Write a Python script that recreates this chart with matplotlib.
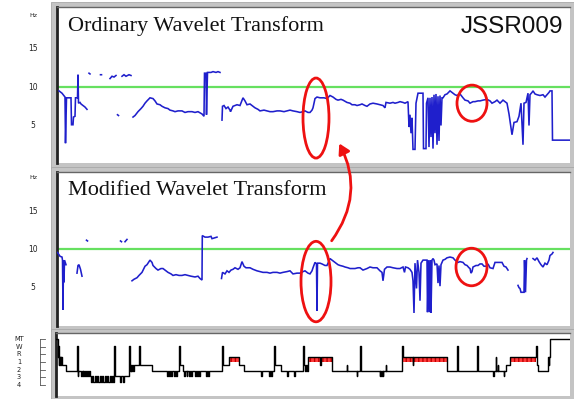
import numpy as np
import matplotlib
matplotlib.use("Agg")
import matplotlib.pyplot as plt
from matplotlib.patches import Rectangle, Ellipse, FancyArrowPatch
from matplotlib.transforms import blended_transform_factory

nan = np.nan

# ---------------- data (time in epochs, frequency in Hz) ----------------
owt_t = [59, 62, 65, 65.5, 66.5, 69, 71, 71.5, 73, 73.5, 75, 75.5, 77.5, 78, 78.5, 80, 81, 83, 85, 87, nan,
         89, 90, nan, 100.5, 101.5, nan, 110, 112, 114, 116, nan, 122, 124, 126, 129, 131, nan,
         117.5, 118.5, nan,
         133, 135, 138, 141, 143, 145, 147, 150, 153, 155, 157, 160, 162, 165, 168, 170, 173, 175, 178,
         182, 185, 188, 192, 195, 198, 202, 204, 204.5, 206, 206.5, 207.5, 211, 213, 216, 218, 220, nan,
         222, 222.5, 224, 226, 228, 230, 230.5, 233, 237, 240, 243, 245, 247, 250, 253, 255, 258, 260,
         264, 267, 270, 273, 277, 280, 284, 287, 290, 293, 297, 300, 303, 305, 308, 310, 312, 313, 315,
         317, 320, 324, 327, 330, 333, 336, 338, 341, 343, 347, 350, 352, 355, 357, 360, 362, 365, 367,
         370, 373, 377, 380, 383, 385, 386, 390, 393, 395, 398, 400, 403, 405, 408, 409, 410, 411, 412,
         413, 415, 416, 418, 421, 423, 423.5, 426, 426.5, 428, 429, 430, 431, 432, 433, 434, 435, 436,
         437, 438, 439, 440, 441, 442, 443, 445, 447, 450, 453, 455, 457, 460, 463, 465, 468, 470, 473,
         475, 478, 480, 483, 487, 490, 492, 495, 497, 500, 503, 505, 507, 509, 512, 514, 517, 519, 521,
         523, 524, 526, 528, 529, 530, 532, 533, 535, 537, 540, 543, 545, 547, 549, 550, 552, 552.5, 572]
owt_hz = [9.5, 9.2, 8.7, 2.7, 8.6, 8.6, 8.6, 5.1, 5.1, 6.1, 6.2, 8.6, 8.6, 11.6, 7.9, 8.0, 7.8, 7.6, 7.4, 7.1, nan,
          11.8, 11.7, nan, 11.6, 11.6, nan, 11.1, 11.4, 11.3, 11.5, nan, 11.4, 11.6, 11.4, 11.6, 11.5, nan,
          6.4, 6.3, nan,
          6.1, 6.3, 6.8, 7.2, 7.5, 7.9, 8.2, 8.6, 8.5, 8.2, 7.8, 7.7, 7.5, 7.3, 7.2, 7.0, 6.9, 6.8, 6.9,
          6.9, 6.7, 6.8, 6.8, 6.7, 6.8, 6.5, 6.2, 11.8, 11.8, 6.4, 11.9, 11.9, 12.0, 11.9, 12.0, 11.9, nan,
          5.7, 7.5, 7.6, 7.2, 7.4, 7.0, 6.8, 7.5, 7.7, 7.6, 8.6, 8.2, 7.7, 7.8, 7.5, 7.3, 7.1, 6.9,
          7.0, 6.9, 6.8, 6.8, 6.9, 6.9, 6.8, 6.9, 7.0, 6.9, 6.8, 6.7, 6.8, 6.9, 6.7, 6.7, 7.0, 7.3, 8.5,
          8.7, 8.6, 8.6, 8.5, 8.9, 8.7, 8.4, 8.3, 8.4, 8.3, 8.0, 7.9, 7.7, 7.7, 7.6, 7.7, 7.8, 7.6, 7.5,
          7.8, 7.9, 7.8, 7.7, 7.6, 7.3, 8.0, 7.9, 8.0, 7.9, 8.0, 8.1, 8.0, 7.9, 8.1, 4.8, 6.4, 4.0, 6.0,
          1.9, 1.9, 7.9, 9.2, 9.2, 9.2, 2.0, 2.0, 7.9, 8.6, 2.2, 8.6, 3.5, 8.7, 2.0, 9.0, 4.0, 9.1,
          2.5, 8.8, 3.0, 8.9, 5.0, 8.6, 8.6, 9.0, 9.1, 9.5, 9.2, 9.0, 8.9, 9.1, 8.6, 8.3, 8.2, 7.9, 8.1,
          8.1, 8.2, 8.2, 8.3, 8.4, 8.2, 7.9, 8.1, 8.3, 7.9, 8.3, 8.1, 7.9, 6.5, 3.8, 5.4, 5.5, 6.2, 7.9,
          2.5, 7.9, 8.0, 9.2, 5.0, 9.0, 9.3, 9.5, 9.1, 9.0, 8.9, 9.0, 8.7, 9.0, 9.3, 9.5, 9.5, 3.1, 3.1]

mwt_t = [57.5, 59, 60, 62, 62.5, 63, 63.5, 64, 64.5, 66, nan,
         77, 78, 79, 80.5, 82, nan,
         86.5, 87.5, nan, 120.5, 121.5, nan, 125, 127, nan,
         132, 134, 137, 139, 142, 145, 147, 150, 152, 153, 156, 158, 161, 163, 166, 168, 171, 173, 176,
         179, 182, 185, 188, 191, 195, 198, 200, 202, 202.3, 205, 208, 211, 212, 217, nan,
         221.5, 222.5, 225, 227, 229, 231, 233, 235, 238, 240, 242, 244, 246, 250, 253, 257, 260, 263,
         267, 270, 273, 277, 280, 283, 287, 290, 293, 297, 300, 303, 305, 308, 310, 312, 313, 315,
         316.5, 317, 317.5, 320, 322, 325, 327, 330, 333, 335, 338, 340, 343, 345, 348, 350, 353, 355,
         358, 360, 363, 367, 370, 373, 377, 380, 382, 383, 384.5, 387, 390, 393, 397, 400, 403, 404.5,
         405.5, 408, 410, 412, 413, 414, 415, 416.5, 417.5, 419, 420, 421, 423, 425, 427, 427.5, 428.5,
         429.5, 430.5, 431, 432, 433, 434, 435, 437, 438, 439, 440, 441, 443, 445, 447, 450, 453, 455,
         458, 460, 463, 465, 467, 469, 470, 471, 472, 473, 476, 478, 480, 482, 484, 486, 488, 490, 493,
         495, 497, 500, 502, 504, 506, 508, nan,
         518, 519, 520, 521, 523, 524, 524.5, 525.5, 526.5, 527, nan,
         533, 535, 537, 539, 541, 543, 545, 547, 549, 550, 552, 553]
mwt_hz = [9.6, 9.3, 9.1, 9.0, 8.6, 2.1, 8.6, 5.7, 8.6, 8.0, nan,
          6.9, 7.9, 8.0, 7.4, 6.5, nan,
          11.2, 11.1, nan, 11.1, 11.0, nan, 11.0, 11.3, nan,
          5.9, 6.1, 6.3, 6.6, 7.0, 7.8, 8.0, 8.6, 8.3, 7.9, 7.5, 7.3, 7.5, 7.5, 7.2, 7.0, 6.8, 6.6, 6.7,
          6.6, 6.6, 6.7, 6.6, 6.5, 6.4, 6.5, 6.2, 6.0, 11.8, 11.6, 11.6, 11.7, 11.4, 11.6, nan,
          6.2, 7.0, 6.8, 7.2, 7.0, 7.3, 7.4, 7.6, 7.4, 7.6, 8.4, 7.8, 7.6, 7.6, 7.4, 7.2, 7.1, 7.0,
          7.0, 6.9, 7.0, 7.0, 6.9, 7.0, 7.1, 7.2, 6.8, 6.9, 6.9, 7.1, 7.2, 6.9, 6.8, 7.2, 7.6, 8.3,
          8.1, 2.0, 8.2, 8.2, 8.1, 7.9, 7.9, 8.8, 8.5, 8.3, 8.0, 7.9, 7.8, 7.7, 7.6, 7.5, 7.5, 7.5,
          7.6, 7.6, 7.3, 7.5, 7.7, 7.6, 7.6, 7.2, 7.0, 5.9, 7.4, 7.7, 7.7, 7.6, 7.5, 7.5, 7.7, 7.0,
          7.7, 7.6, 7.4, 7.0, 5.9, 1.7, 8.2, 4.9, 8.6, 7.0, 3.3, 8.2, 8.6, 8.6, 8.6, 1.8, 8.6,
          1.8, 8.6, 1.7, 8.6, 8.8, 8.6, 8.0, 8.1, 5.6, 7.9, 5.2, 8.0, 8.6, 8.7, 8.9, 9.0, 8.9, 8.6,
          8.3, 8.4, 8.3, 8.0, 7.9, 7.6, 7.5, 6.9, 7.1, 7.7, 7.9, 7.9, 8.1, 8.1, 7.8, 7.8, 8.1, 7.6, 7.5,
          8.3, 8.3, 8.3, 8.3, 7.8, 7.7, 7.3, nan,
          5.3, 5.0, 4.9, 4.4, 4.4, 4.4, 8.6, 4.4, 8.6, 8.8, nan,
          8.8, 8.6, 8.9, 8.4, 8.0, 7.7, 8.2, 8.0, 8.6, 9.2, 9.4, 9.6]

threshold_hz = 10
hz_ticks = [5, 10, 15]

# hypnogram (step function: stage starting at each time)
hyp_t = [57, 58.5, 59, 59.5, 60, 60.5, 61, 61.5, 62, 62.5, 67, 78, 78.7, 79.4,
         82, 82.8, 83.6, 84.4, 85.2, 86, 87, 88, 89, 90, 91, 92, 93, 94, 95.5, 96.5, 98, 99, 100.5,
         101.5, 103, 104, 105.5, 106.5, 108, 109, 110.5, 111.5, 113, 113.8, 115, 115.7, 121, 121.6,
         124, 124.6, 130, 130.6, 131.5, 132, 133, 134, 135, 140, 141, 153,
         168, 168.6, 170, 170.6, 172, 172.6, 175, 175.6, 177, 177.6, 180, 180.7, 184,
         185, 185.7, 187.5, 188.2, 190, 190.7, 192, 192.7, 196, 196.7, 198, 198.7, 200, 200.7,
         207, 207.6, 209, 209.6, 223, 224, 230, 240, 245, 262, 262.7, 270, 270.6, 272, 272.6,
         275, 276, 282, 288, 288.7, 295, 295.7, 304, 305, 306, 307, 308, 309, 320, 321, 332,
         347, 347.6, 357, 357.6, 360, 361, 380, 380.6, 381.5, 382.1, 383, 383.6, 386, 386.6,
         402, 403, 413, 413.6, 447, 457, 458, 477, 478, 493, 494, 496, 496.6, 498, 498.6,
         504, 504.6, 506, 507, 510, 536, 537, 538, 548, 549, 549.5, 550, 572]
hyp_stage = ['MT', 'R', 'W', '1', 'R', '1', 'R', '1', 'R', '1', '2', 'W', '3', '2',
             '3', '2', '3', '2', '3', '2', '3', '2', '3', '2', '3', '4', '3', '4', '3', '4', '3', '4', '3',
             '4', '3', '4', '3', '4', '3', '4', '3', '4', '3', '4', 'W', '3', '4', '3',
             '4', '3', 'W', '2', '1', '2', '1', '2', '1', 'W', '1', '2',
             '3', '2', '3', '2', '3', '2', '3', '2', '3', '2', 'W', '1', '2',
             '3', '2', '3', '2', '3', '2', '3', '2', '3', '2', '3', '2', '3', '2',
             '3', '2', '3', '2', 'W', '1', 'R', '1', '2', '3', '2', '3', '2', '3', '2',
             'W', '1', '2', '3', '2', '3', '2', 'W', '1', '2', '1', '2', 'R', '1', 'R', '2',
             '1', '2', '3', '2', 'W', '2', '3', '2', '3', '2', '3', '2', '1', '2',
             'W', 'R', '1', 'R', '2', 'W', '2', 'W', '2', '3', '2', 'R', '2', '1', '2',
             '3', '2', '1', '1', 'R', 'W', '1', '2', 'R', '1', 'R', 'MT', 'MT']
rem_blocks = [(230, 240), (309, 332), (403, 447), (510, 536)]
stage_labels = ['MT', 'W', 'R', '1', '2', '3', '4']

# ---------------- styling / layout ----------------
W, H = 574, 399
STAGE_POS = {'MT': 6.0, 'W': 5.08, 'R': 3.65, '1': 2.6, '2': 1.83, '3': 1.17, '4': 0.39}
BLUE = '#1f1fcc'
GREEN = '#66e060'
RED = '#ee1111'
GRAY = '#c4c4c4'

fig = plt.figure(figsize=(W / 100, H / 100), dpi=100)
fig.patch.set_facecolor('white')


def frect(x0, y0, x1, y1):
    return [x0 / W, 1 - y1 / H, (x1 - x0) / W, (y1 - y0) / H]


def gray_frame(x0, y0, x1, y1):
    r = Rectangle((x0 / W, 1 - y1 / H), (x1 - x0) / W, (y1 - y0) / H,
                  transform=fig.transFigure, facecolor=GRAY, edgecolor='#a8a8a8',
                  linewidth=0.6, zorder=-10)
    fig.add_artist(r)


gray_frame(51, 2, 574, 168)
gray_frame(51, 167, 574, 331)
gray_frame(51, 329, 574, 399)


def style_axes(ax):
    ax.set_zorder(1)
    ax.set_facecolor('white')
    ax.set_xticks([])
    ax.set_yticks([])
    for s in ['right', 'bottom']:
        ax.spines[s].set_visible(False)
    ax.spines['left'].set_color('#222222')
    ax.spines['left'].set_linewidth(2.0)
    ax.spines['top'].set_color('#666666')
    ax.spines['top'].set_linewidth(1.0)
    ax.set_xlim(57, 570)


def freq_panel(rect, t, hz, ylim, title):
    ax = fig.add_axes(frect(*rect))
    style_axes(ax)
    ax.set_ylim(*ylim)
    ax.axhline(threshold_hz, color=GREEN, lw=1.6, zorder=2)
    ax.plot(t, hz, color=BLUE, lw=1.15, zorder=3, solid_joinstyle='miter')
    tr = blended_transform_factory(fig.transFigure, ax.transData)
    for v in hz_ticks:
        ax.text(33 / W, v, str(v), transform=tr, ha='center', va='center',
                fontsize=5.5, family='DejaVu Sans', color='#222222')
    ax.text(33 / W, 19.35, 'Hz', transform=tr, ha='center', va='center',
            fontsize=4.5, family='DejaVu Sans', color='#222222')
    ax.text(0.021, 0.94, title, transform=ax.transAxes, ha='left', va='top',
            fontsize=16, family='Liberation Serif', color='#111111')
    return ax


ax1 = freq_panel((57, 7, 570, 163), owt_t, owt_hz, (0.13, 20.4), 'Ordinary Wavelet Transform')
ax1.text(0.986, 0.945, 'JSSR009', transform=ax1.transAxes, ha='right', va='top',
         fontsize=17.5, family='Liberation Sans', color='#111111')
ax2 = freq_panel((57, 172, 570, 326), mwt_t, mwt_hz, (0.0, 20.1), 'Modified Wavelet Transform')

# ellipses highlighting regions
for ax, (cx, cy, w, h) in [(ax1, (316, 5.97, 26, 10.4)), (ax1, (472, 7.9, 30, 4.7)),
                           (ax2, (316, 5.8, 30, 10.5)), (ax2, (471.5, 7.7, 31, 4.9))]:
    ax.add_patch(Ellipse((cx, cy), w, h, facecolor='none', edgecolor=RED, lw=2.0,
                         zorder=5, clip_on=False))

# hypnogram
ax3 = fig.add_axes(frect(56, 333, 570, 396))
style_axes(ax3)
ax3.set_ylim(-1.43, 6.78)
hy = [STAGE_POS[s] for s in hyp_stage]
for a, b in rem_blocks:
    ax3.add_patch(Rectangle((a, 3.0), b - a, STAGE_POS['R'] - 3.0, facecolor='#ff3b3b',
                            edgecolor='#c00000', hatch='||||', lw=0.0, zorder=2))
ax3.step(hyp_t, hy, where='post', color='black', lw=1.0, zorder=3)

tr3 = blended_transform_factory(fig.transFigure, ax3.transData)
for i, lab in enumerate(stage_labels):
    yv = 6 - i
    ax3.text(19 / W, yv, lab, transform=tr3, ha='center', va='center', fontsize=4.8,
             family='DejaVu Sans', color='#222222', clip_on=False)
    ax3.plot([40 / W, 45 / W], [yv, yv], transform=tr3, color='#555555', lw=0.6, clip_on=False)
ax3.plot([40 / W, 40 / W], [0, 6], transform=tr3, color='#555555', lw=0.6, clip_on=False)

# curved arrow from lower ellipse to upper ellipse
arrow = FancyArrowPatch((330 / W, 1 - 243 / H), (338 / W, 1 - 141 / H),
                        transform=fig.transFigure, connectionstyle='arc3,rad=0.32',
                        arrowstyle='-|>,head_length=6,head_width=3.5', color=RED, lw=2.0,
                        zorder=10)
fig.add_artist(arrow)

fig.savefig('out.png', dpi=100)
